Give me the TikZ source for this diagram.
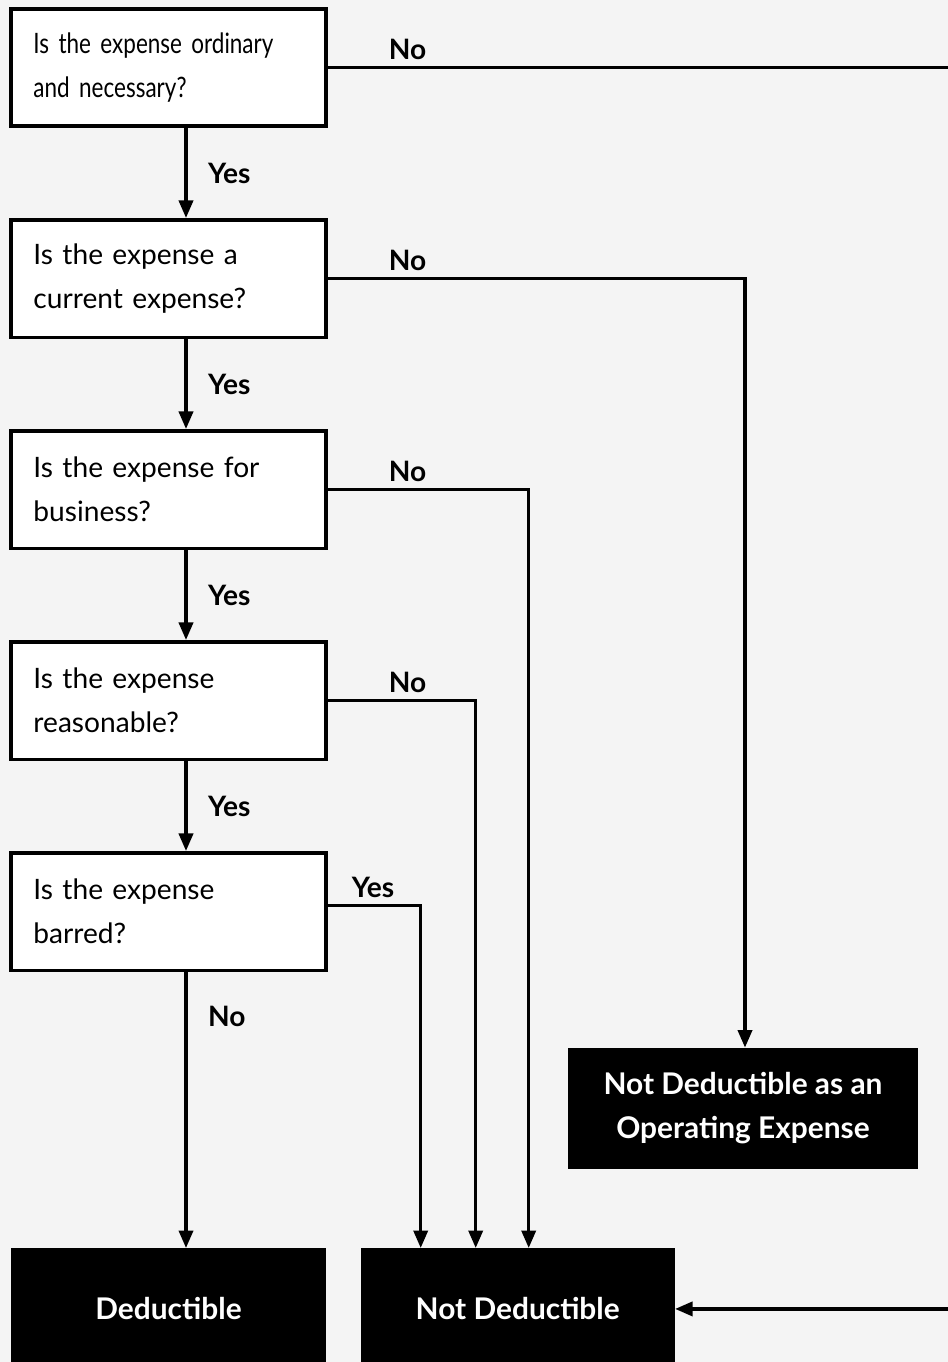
\documentclass[tikz,border=0pt]{standalone}
\usepackage{fontspec}
\setmainfont{Lato}
\newfontfamily\narrowfont[FakeStretch=0.8]{Lato}
\usepackage{tikz}
\usetikzlibrary{arrows.meta, positioning}
\definecolor{bggray}{RGB}{244, 244, 244}
\tikzset{
    qbox/.style = {rectangle, draw=black, fill=white, line width=2pt, text width=5.4cm, inner xsep=0.45cm, align=left, minimum height=2.35cm, font=\fontsize{16}{25}\selectfont},
    endbox/.style = {rectangle, fill=black, text=white, minimum height=2.42cm, align=center, font=\bfseries\fontsize{17}{25}\selectfont},
    arrow/.style = {line width=2pt, -{Triangle[length=10pt, width=8pt]}},
    line/.style = {line width=2pt, -},
    lbl/.style = {font=\bfseries\fontsize{16}{20}\selectfont}
}

\begin{document}
\begin{tikzpicture}[node distance=1.8cm]
\fill[bggray] (0,0) rectangle (18.96,-27.24);
\useasboundingbox (0,0) rectangle (18.96,-27.24);
% Questions
\node (ordinary) [qbox] at (3.37,-1.35) {\narrowfont Is the expense ordinary\\and necessary?};
\node (current) [qbox, below=of ordinary] {Is the expense a\\current expense?};
\node (business) [qbox, below=of current] {Is the expense for\\business?};
\node (reasonable) [qbox, below=of business] {Is the expense\\reasonable?};
\node (barred) [qbox, below=of reasonable] {Is the expense\\barred?};

% Outcomes
\node (deduct) [endbox, minimum width=6.3cm, below=5.52cm of barred] {Deductible};
\node (notdeduct) [endbox, minimum width=6.28cm, right=0.68cm of deduct] {Not Deductible};
\node (notoper) [endbox, minimum width=7cm] at (14.86,-22.17) {Not Deductible as an\\Operating Expense};
\coordinate (rimtop) at (19.2,0 |- ordinary.east);
\coordinate (rimbot) at (19.2,0 |- notdeduct.east);

% Yes chain
\draw [arrow] ([xshift=0.35cm]ordinary.south) -- node[lbl, right, xshift=0.29cm] {Yes} ([xshift=0.35cm]current.north);
\draw [arrow] ([xshift=0.35cm]current.south) -- node[lbl, right, xshift=0.29cm] {Yes} ([xshift=0.35cm]business.north);
\draw [arrow] ([xshift=0.35cm]business.south) -- node[lbl, right, xshift=0.29cm] {Yes} ([xshift=0.35cm]reasonable.north);
\draw [arrow] ([xshift=0.35cm]reasonable.south) -- node[lbl, right, xshift=0.29cm] {Yes} ([xshift=0.35cm]barred.north);
\draw [arrow] ([xshift=0.35cm]barred.south) -- node[lbl, right, pos=0.16, xshift=0.29cm] {No} ([xshift=0.35cm]deduct.north);

% Branches
\draw [line] (ordinary.east) node[lbl, above right, xshift=1.07cm] {No} -- (rimtop);
\draw [arrow] (rimbot) -- (notdeduct.east);
\draw [arrow] (current.east) node[lbl, above right, xshift=1.07cm] {No} -| ([xshift=0.04cm]notoper.north);
\draw [arrow] (business.east) node[lbl, above right, xshift=1.07cm] {No} -| ([xshift=0.22cm]notdeduct.north);
\draw [arrow] (reasonable.east) node[lbl, above right, xshift=1.07cm] {No} -| ([xshift=-0.84cm]notdeduct.north);
\draw [arrow] ([yshift=0.12cm]barred.east) node[lbl, above right, xshift=0.33cm] {Yes} -| ([xshift=-1.94cm]notdeduct.north);

\end{tikzpicture}
\end{document}
